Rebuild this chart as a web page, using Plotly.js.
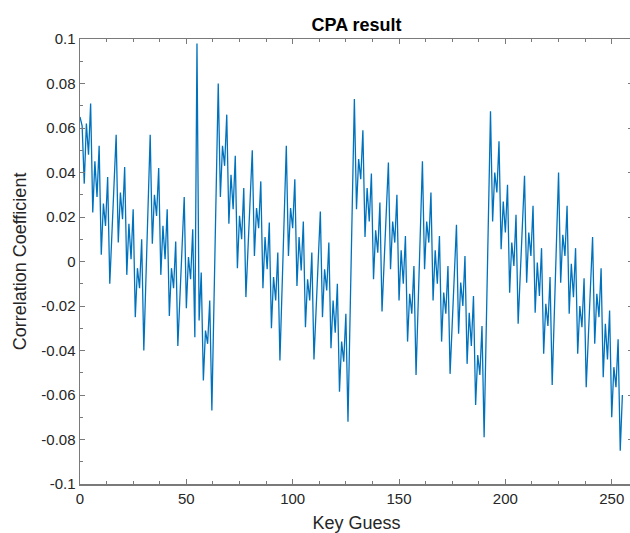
<!DOCTYPE html>
<html>
<head>
<meta charset="utf-8">
<script src="https://cdn.plot.ly/plotly-3.0.1.min.js"></script>
<style>
html, body { margin: 0; padding: 0; overflow: hidden; background: #fff; width: 630px; height: 533px; }
#chart { width: 640px; height: 533px; }
</style>
</head>
<body>
<div id="chart"></div>
<script>
// Key guesses 0..255
const keyGuess = Array.from({length: 256}, (_, i) => i);

// Correlation coefficient, one value per key guess
const corr0 = [ // 0..63
  0.065, 0.061, 0.035, 0.062, 0.048, 0.071, 0.022, 0.045, 0.029, 0.052, 0.003, 0.026, 0.016, 0.038, -0.010, 0.012,
  0.034, 0.057, 0.0085, 0.031, 0.019, 0.0425, -0.006, 0.017, 0.001, 0.0235, -0.025, -0.003, -0.012, 0.010, -0.040, -0.007,
  0.025, 0.057, 0.008, 0.030, 0.0205, 0.042, -0.006, 0.016, 0.001, 0.0235, -0.0245, -0.003, -0.012, 0.009, -0.038, -0.016,
  0.007, 0.029, -0.021, 0.002, -0.008, 0.0145, -0.034, 0.098, -0.0265, -0.005, -0.0535, -0.031, -0.037, -0.0175, -0.067, -0.018
];
const corr1 = [ // 64..127
  0.031, 0.080, 0.029, 0.052, 0.043, 0.066, 0.017, 0.039, 0.0235, 0.0475, -0.003, 0.0205, 0.010, 0.033, -0.016, 0.006,
  0.028, 0.050, 0.0025, 0.024, 0.015, 0.036, -0.012, 0.011, -0.0035, 0.0175, -0.030, -0.007, -0.0175, 0.004, -0.0445, -0.012,
  0.020, 0.052, 0.0025, 0.024, 0.015, 0.037, -0.011, 0.011, -0.004, 0.018, -0.0295, -0.008, -0.0175, 0.004, -0.044, -0.022,
  0.000, 0.0225, -0.025, -0.0035, -0.013, 0.0085, -0.039, -0.0175, -0.032, -0.010, -0.0585, -0.036, -0.045, -0.0235, -0.072, -0.022
];
const corr2 = [ // 128..191
  0.025, 0.073, 0.0235, 0.046, 0.037, 0.059, 0.011, 0.033, 0.018, 0.0395, -0.008, 0.014, 0.004, 0.0265, -0.0225, 0.000,
  0.022, 0.0445, -0.0035, 0.018, 0.0085, 0.030, -0.0175, 0.005, -0.010, 0.0115, -0.036, -0.0145, -0.0235, -0.002, -0.051, -0.019,
  0.013, 0.045, -0.0035, 0.018, 0.0085, 0.031, -0.0175, 0.005, -0.010, 0.0115, -0.036, -0.014, -0.0235, -0.002, -0.0505, -0.028,
  -0.005, 0.0165, -0.0325, -0.0095, -0.020, 0.0025, -0.046, -0.023, -0.038, -0.0155, -0.0645, -0.042, -0.051, -0.029, -0.079, -0.030
];
const corr3 = [ // 192..255
  0.019, 0.0675, 0.018, 0.040, 0.031, 0.054, 0.0055, 0.027, 0.013, 0.0345, -0.014, 0.0085, -0.002, 0.021, -0.028, -0.006,
  0.016, 0.0385, -0.0095, 0.013, 0.0025, 0.025, -0.023, -0.0005, -0.0155, 0.006, -0.0415, -0.019, -0.029, -0.007, -0.0555, -0.024,
  0.008, 0.040, -0.0095, 0.012, 0.0025, 0.025, -0.0235, -0.001, -0.016, 0.006, -0.0415, -0.020, -0.0295, -0.0075, -0.0565, -0.034,
  -0.012, 0.011, -0.037, -0.0145, -0.025, -0.003, -0.052, -0.028, -0.044, -0.022, -0.070, -0.0475, -0.0565, -0.035, -0.085, -0.060
];
const correlation = corr0.concat(corr1, corr2, corr3);

const xTickVals = [0, 50, 100, 150, 200, 250];
const xTickText = ['0', '50', '100', '150', '200', '250'];
const yTickVals = [-0.1, -0.08, -0.06, -0.04, -0.02, 0, 0.02, 0.04, 0.06, 0.08, 0.1];
const yTickText = ['-0.1', '-0.08', '-0.06', '-0.04', '-0.02', '0', '0.02', '0.04', '0.06', '0.08', '0.1'];

const FONT = 'Liberation Sans, Arial, Helvetica, sans-serif';
const TXT = '#262626';
const AX = '#7a7a7a';

const trace = {
  x: keyGuess,
  y: correlation,
  type: 'scatter',
  mode: 'lines',
  line: { color: '#0072BD', width: 1.3 },
  hoverinfo: 'x+y'
};

const layout = {
  width: 640,
  height: 533,
  margin: { l: 80, r: 7, t: 39, b: 49, pad: 0 },
  paper_bgcolor: '#ffffff',
  plot_bgcolor: '#ffffff',
  showlegend: false,
  font: { family: FONT, color: TXT, size: 15 },
  title: {
    text: '<b>CPA result</b>',
    font: { family: FONT, size: 18, color: '#000' },
    x: 0.5, xref: 'paper', xanchor: 'center',
    y: 1 - 25 / 533, yref: 'container', yanchor: 'middle'
  },
  xaxis: {
    range: [0, 260],
    tickmode: 'array',
    tickvals: xTickVals,
    ticktext: xTickText,
    ticks: 'inside', ticklen: 5, tickwidth: 1, tickcolor: AX,
    minor: { dtick: 12.5, tick0: 0, ticks: 'inside', ticklen: 3, tickcolor: AX, showgrid: false },
    showline: true, linecolor: AX, linewidth: 1.5, mirror: 'allticks',
    showgrid: false, zeroline: false,
    tickfont: { family: FONT, size: 15, color: TXT },
    title: { text: 'Key Guess', font: { family: FONT, size: 18, color: TXT }, standoff: 17 }
  },
  yaxis: {
    range: [-0.1, 0.1],
    tickmode: 'array',
    tickvals: yTickVals,
    ticktext: yTickText,
    ticks: 'inside', ticklen: 5, tickwidth: 1, tickcolor: AX,
    minor: { dtick: 0.01, tick0: 0, ticks: 'inside', ticklen: 3, tickcolor: AX, showgrid: false },
    showline: true, linecolor: AX, linewidth: 1.5, mirror: 'allticks',
    showgrid: false, zeroline: false,
    tickfont: { family: FONT, size: 15, color: TXT },
    title: { text: 'Correlation Coefficient', font: { family: FONT, size: 18, color: TXT }, standoff: 10 }
  }
};

Plotly.newPlot('chart', [trace], layout, { displayModeBar: false, staticPlot: true });
</script>
</body>
</html>
